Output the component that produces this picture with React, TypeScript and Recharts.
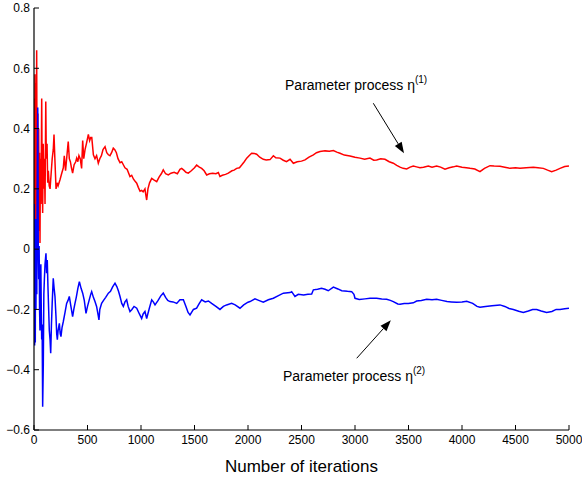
import React from "react";
import { LineChart, Line, XAxis, YAxis, ReferenceLine, ReferenceDot, Label } from "recharts";

const redIter = [1,3,6,9,12,15,18,21,25,28,32,36,40,44,48,52,56,60,65,72,76,81,86,92,97,103,110,115,122,128,134,142,150,160,170,180,187,195,206,215,225,243,258,274,283,295,305,320,330,340,350,361,375,390,399,410,420,432,445,455,465,477,490,508,520,530,540,555,570,585,601,615,630,645,664,680,695,710,725,741,755,770,785,804,820,835,850,870,897,913,930,945,960,975,991,1006,1020,1037,1045,1053,1065,1080,1100,1120,1147,1170,1190,1208,1230,1255,1280,1310,1340,1364,1380,1400,1420,1442,1470,1500,1520,1545,1567,1590,1614,1640,1670,1700,1723,1738,1760,1790,1816,1850,1870,1894,1920,1941,1965,1988,2010,2034,2060,2081,2110,2143,2170,2206,2237,2260,2299,2330,2360,2393,2424,2460,2500,2533,2570,2611,2640,2673,2720,2760,2798,2830,2860,2900,2953,3000,3047,3090,3140,3175,3202,3240,3280,3320,3358,3390,3421,3450,3483,3515,3545,3575,3607,3640,3685,3720,3763,3800,3841,3880,3920,3950,4000,4040,4075,4120,4168,4210,4262,4300,4355,4400,4449,4500,4542,4600,4667,4710,4760,4800,4838,4880,4916,4960,5000];
const redVal = [0.2,0.5,0.1,0.58,0.3,0.0,0.55,0.2,0.66,0.3,0.03,0.45,0.1,0.4,0.06,0.32,0.02,0.3,0.15,0.5,0.25,0.12,0.35,0.2,0.3,0.15,0.49,0.3,0.35,0.22,0.26,0.21,0.2,0.25,0.3,0.33,0.38,0.3,0.2,0.22,0.21,0.23,0.25,0.27,0.31,0.26,0.3,0.357,0.3,0.29,0.27,0.252,0.28,0.29,0.302,0.29,0.31,0.3,0.268,0.36,0.3,0.33,0.35,0.381,0.36,0.37,0.37,0.313,0.3,0.31,0.285,0.3,0.31,0.33,0.34,0.32,0.313,0.31,0.32,0.335,0.33,0.32,0.3,0.287,0.29,0.28,0.27,0.265,0.241,0.245,0.232,0.225,0.219,0.205,0.192,0.195,0.19,0.2,0.18,0.163,0.2,0.22,0.235,0.23,0.224,0.24,0.25,0.263,0.25,0.246,0.252,0.255,0.25,0.265,0.268,0.262,0.255,0.252,0.26,0.27,0.279,0.272,0.268,0.26,0.246,0.25,0.252,0.25,0.254,0.241,0.245,0.248,0.252,0.26,0.262,0.268,0.27,0.279,0.29,0.302,0.31,0.318,0.317,0.315,0.305,0.298,0.296,0.297,0.31,0.303,0.302,0.295,0.29,0.298,0.285,0.29,0.292,0.296,0.305,0.313,0.32,0.324,0.326,0.325,0.327,0.322,0.318,0.312,0.309,0.305,0.302,0.298,0.302,0.295,0.296,0.3,0.298,0.29,0.285,0.278,0.272,0.268,0.266,0.272,0.276,0.273,0.27,0.272,0.276,0.272,0.276,0.272,0.265,0.27,0.273,0.276,0.272,0.27,0.268,0.266,0.257,0.268,0.277,0.276,0.275,0.272,0.268,0.27,0.268,0.27,0.272,0.27,0.268,0.262,0.257,0.262,0.268,0.274,0.276];

const blueIter = [1,3,6,9,12,15,18,22,26,30,35,38,40,44,48,52,56,60,64,68,72,76,81,87,92,97,103,108,112,118,124,130,137,143,150,156,163,170,180,188,196,205,212,218,225,237,245,252,262,274,290,305,318,330,345,361,372,383,395,410,424,440,455,470,486,500,515,530,539,555,570,585,600,607,615,632,650,670,695,715,735,757,775,790,804,820,835,850,866,880,897,915,935,960,985,1006,1020,1037,1053,1078,1100,1115,1131,1160,1185,1208,1230,1250,1271,1300,1334,1364,1396,1420,1440,1458,1490,1520,1545,1567,1600,1630,1660,1700,1738,1770,1800,1847,1880,1925,1960,2000,2019,2065,2100,2143,2190,2237,2280,2330,2393,2408,2439,2470,2520,2560,2595,2611,2650,2687,2720,2750,2798,2840,2876,2930,2969,2990,3000,3040,3093,3140,3202,3250,3296,3330,3358,3400,3421,3460,3498,3545,3576,3620,3670,3720,3763,3810,3860,3900,3950,4000,4044,4100,4140,4168,4220,4280,4355,4400,4440,4480,4530,4573,4620,4660,4698,4740,4791,4840,4880,4916,4960,5000];
const blueVal = [-0.1,0.15,-0.32,0.02,-0.31,0.1,-0.2,0.05,-0.15,0.2,0.47,0.25,0.0,-0.1,0.01,-0.2,-0.27,-0.1,-0.05,-0.2,-0.3,-0.25,-0.523,-0.38,-0.15,-0.1,-0.05,-0.03,-0.014,-0.08,-0.036,-0.12,-0.2,-0.27,-0.3,-0.345,-0.25,-0.18,-0.097,-0.13,-0.157,-0.22,-0.28,-0.3,-0.27,-0.246,-0.28,-0.29,-0.26,-0.24,-0.21,-0.18,-0.17,-0.157,-0.19,-0.224,-0.2,-0.18,-0.16,-0.13,-0.108,-0.13,-0.146,-0.17,-0.213,-0.19,-0.17,-0.15,-0.141,-0.16,-0.174,-0.19,-0.22,-0.235,-0.2,-0.18,-0.17,-0.16,-0.146,-0.14,-0.125,-0.113,-0.125,-0.14,-0.157,-0.18,-0.19,-0.175,-0.168,-0.19,-0.207,-0.2,-0.19,-0.196,-0.215,-0.23,-0.215,-0.207,-0.23,-0.196,-0.168,-0.175,-0.185,-0.17,-0.155,-0.146,-0.16,-0.17,-0.174,-0.175,-0.18,-0.168,-0.168,-0.19,-0.21,-0.218,-0.2,-0.196,-0.18,-0.168,-0.175,-0.172,-0.18,-0.19,-0.2,-0.19,-0.185,-0.18,-0.185,-0.196,-0.185,-0.176,-0.174,-0.165,-0.17,-0.176,-0.168,-0.163,-0.155,-0.146,-0.144,-0.141,-0.157,-0.15,-0.152,-0.15,-0.149,-0.135,-0.133,-0.13,-0.133,-0.138,-0.126,-0.132,-0.138,-0.14,-0.141,-0.15,-0.163,-0.167,-0.165,-0.163,-0.163,-0.165,-0.166,-0.17,-0.174,-0.182,-0.183,-0.18,-0.18,-0.178,-0.172,-0.17,-0.166,-0.168,-0.166,-0.17,-0.174,-0.175,-0.176,-0.175,-0.173,-0.18,-0.19,-0.193,-0.19,-0.188,-0.185,-0.19,-0.197,-0.2,-0.206,-0.21,-0.205,-0.2,-0.2,-0.205,-0.21,-0.207,-0.2,-0.2,-0.198,-0.196];

const xTicks = [0, 500, 1000, 1500, 2000, 2500, 3000, 3500, 4000, 4500, 5000];
const yTicks = [-0.6, -0.4, -0.2, 0, 0.2, 0.4, 0.6, 0.8];
const annotationTexts = ["Parameter process \u03b7", "(1)", "(2)"];

const redData = redIter.map((x, i) => ({ x, y: redVal[i] }));
const blueData = blueIter.map((x, i) => ({ x, y: blueVal[i] }));

const FONT = "'Liberation Sans', Arial, Helvetica, sans-serif";
const TL = 5;

const fmtY = (v: number) => (Math.abs(v) < 1e-9 ? "0" : (v < 0 ? "\u2212" : "") + Math.abs(v).toFixed(1));

const BottomTick = (p: any) => (
  <g>
    <line x1={p.x} x2={p.x} y1={p.y} y2={p.y - TL} stroke="#000" strokeWidth={1} />
    <text x={p.x} y={p.y + 5} dy="0.75em" textAnchor="middle" fontSize={12} fontFamily={FONT} fill="#000">
      {p.payload.value}
    </text>
  </g>
);
const TopTick = (p: any) => <line x1={p.x} x2={p.x} y1={p.y} y2={p.y + TL} stroke="#000" strokeWidth={1} />;
const LeftTick = (p: any) => (
  <g>
    <line x1={p.x} x2={p.x + TL} y1={p.y} y2={p.y} stroke="#000" strokeWidth={1} />
    <text x={p.x - 4} y={p.y} dy="0.36em" textAnchor="end" fontSize={12} fontFamily={FONT} fill="#000">
      {fmtY(p.payload.value)}
    </text>
  </g>
);
const RightTick = (p: any) => <line x1={p.x} x2={p.x - TL} y1={p.y} y2={p.y} stroke="#000" strokeWidth={1} />;

const ArrowShape = (props: any) => {
  const { x1, y1, x2, y2 } = props;
  if ([x1, y1, x2, y2].some((v) => typeof v !== "number" || isNaN(v))) return null;
  const ang = Math.atan2(y2 - y1, x2 - x1);
  const L = 11, W = 4;
  const bx = x2 - L * Math.cos(ang), by = y2 - L * Math.sin(ang);
  const px = -Math.sin(ang) * W, py = Math.cos(ang) * W;
  return (
    <g>
      <line x1={x1} y1={y1} x2={bx} y2={by} stroke="#000" strokeWidth={1} />
      <polygon points={`${x2},${y2} ${bx + px},${by + py} ${bx - px},${by - py}`} fill="#000" />
    </g>
  );
};

const makeText = (sup: string) => (props: any) => {
  const { cx, cy } = props;
  if (typeof cx !== "number" || typeof cy !== "number") return null;
  return (
    <text x={cx} y={cy} fontSize={14} fontFamily={FONT} fill="#000">
      {annotationTexts[0]}
      <tspan dy={-7} fontSize={10}>{sup}</tspan>
    </text>
  );
};

const AxisTitle = (props: any) => {
  const vb = props.viewBox || {};
  return (
    <text x={vb.x + vb.width / 2} y={vb.y + 42} textAnchor="middle" fontSize={17} fontFamily={FONT} fill="#000">
      Number of iterations
    </text>
  );
};

export default function App() {
  return (
    <div style={{ position: "absolute", left: 0, top: 0, background: "#fff" }}>
      <LineChart width={582} height={478} margin={{ top: 8, right: 13, bottom: 18, left: 0 }}>
        <XAxis
          xAxisId={0}
          dataKey="x"
          type="number"
          domain={[0, 5000]}
          ticks={xTicks}
          interval={0}
          allowDataOverflow
          height={30}
          tickSize={0}
          tickMargin={0}
          tickLine={false}
          axisLine={{ stroke: "#000", strokeWidth: 1.2 }}
          tick={<BottomTick />}
        >
          <Label content={<AxisTitle />} />
        </XAxis>
        <XAxis
          xAxisId="top"
          orientation="top"
          dataKey="x"
          type="number"
          domain={[0, 5000]}
          ticks={xTicks}
          interval={0}
          allowDataOverflow
          height={0}
          tickSize={0}
          tickMargin={0}
          tickLine={false}
          axisLine={{ stroke: "#000", strokeWidth: 1.2 }}
          tick={<TopTick />}
        />
        <YAxis
          yAxisId={0}
          type="number"
          domain={[-0.6, 0.8]}
          ticks={yTicks}
          interval={0}
          allowDataOverflow
          width={34}
          tickSize={0}
          tickMargin={0}
          tickLine={false}
          axisLine={{ stroke: "#000", strokeWidth: 1.2 }}
          tick={<LeftTick />}
        />
        <YAxis
          yAxisId="right"
          orientation="right"
          type="number"
          domain={[-0.6, 0.8]}
          ticks={yTicks}
          interval={0}
          allowDataOverflow
          width={0}
          tickSize={0}
          tickMargin={0}
          tickLine={false}
          axisLine={{ stroke: "#000", strokeWidth: 1.2 }}
          tick={<RightTick />}
        />
        <Line
          data={redData}
          dataKey="y"
          xAxisId={0}
          yAxisId={0}
          stroke="#ff0000"
          strokeWidth={1.5}
          dot={false}
          isAnimationActive={false}
          type="linear"
        />
        <Line
          data={blueData}
          dataKey="y"
          xAxisId={0}
          yAxisId={0}
          stroke="#0000ff"
          strokeWidth={1.5}
          dot={false}
          isAnimationActive={false}
          type="linear"
        />
        <ReferenceLine
          xAxisId={0}
          yAxisId={0}
          segment={[{ x: 3171, y: 0.484 }, { x: 3458, y: 0.318 }]}
          shape={ArrowShape}
          ifOverflow="visible"
        />
        <ReferenceLine
          xAxisId={0}
          yAxisId={0}
          segment={[{ x: 3016, y: -0.362 }, { x: 3335, y: -0.236 }]}
          shape={ArrowShape}
          ifOverflow="visible"
        />
        <ReferenceDot xAxisId={0} yAxisId={0} x={2346} y={0.528} r={0} shape={makeText(annotationTexts[1])} ifOverflow="visible" />
        <ReferenceDot xAxisId={0} yAxisId={0} x={2327} y={-0.436} r={0} shape={makeText(annotationTexts[2])} ifOverflow="visible" />
      </LineChart>
    </div>
  );
}
